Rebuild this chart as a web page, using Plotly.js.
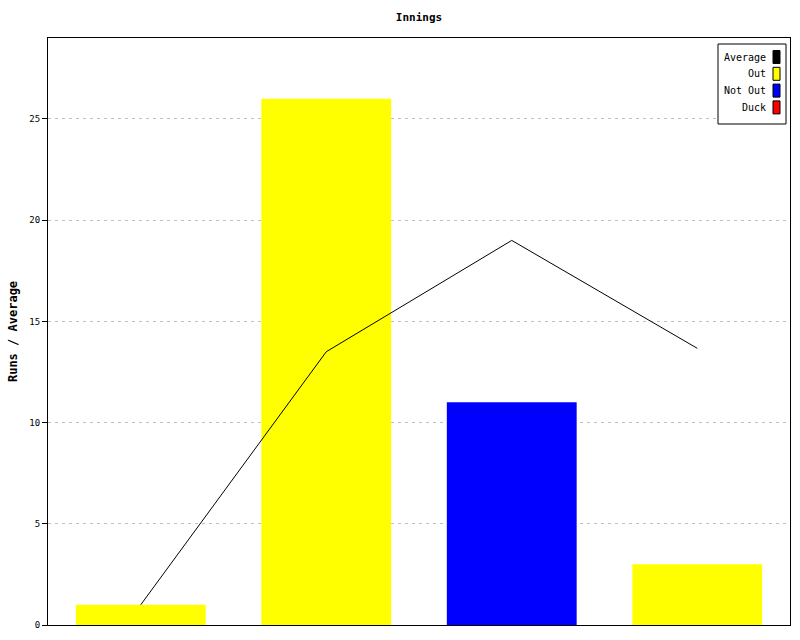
<!DOCTYPE html>
<html>
<head>
<meta charset="utf-8">
<script src="https://cdn.plot.ly/plotly-3.0.1.min.js"></script>
<style>html,body{margin:0;padding:0;background:#fff;}#chart{width:800px;height:640px;}</style>
</head>
<body>
<div id="chart"></div>
<script>
// Data
var innings = ["1", "2", "3", "4"];
var runs = [1, 26, 11, 3];
var outcome = ["Out", "Out", "Not Out", "Out"];
var average = [1, 13.5, 19, 13.67];
var legendNames = ["Average", "Out", "Not Out", "Duck"];
var legendColors = ["#000000", "#ffff00", "#0000ff", "#ff0000"];
var yTicks = [0, 5, 10, 15, 20, 25];

var outcomeColor = {"Out": "#ffff00", "Not Out": "#0000ff", "Duck": "#ff0000"};
var font = "'DejaVu Sans Mono', 'Liberation Mono', monospace";

var barTrace = {
  type: "bar",
  x: innings,
  y: runs,
  marker: {color: outcome.map(function (s) { return outcomeColor[s]; }), line: {width: 0}},
  width: 0.7,
  showlegend: false,
  hoverinfo: "skip"
};
var lineTrace = {
  type: "scatter",
  mode: "lines",
  x: innings,
  y: average,
  line: {color: "#000000", width: 1},
  showlegend: false,
  hoverinfo: "skip"
};

// Plot area in pixels
var L = 48, R = 790, T = 38, B = 625;
function px(x) { return (x - L) / (R - L); }
function py(y) { return 1 - (y - T) / (B - T); }

var shapes = [{
  type: "rect", xref: "paper", yref: "paper",
  x0: px(718), x1: px(786), y0: py(124), y1: py(44),
  line: {color: "#000", width: 1}, fillcolor: "#fff", layer: "above"
}];
var annotations = [];
legendNames.forEach(function (name, i) {
  var cy = 57 + i * 16.8;
  shapes.push({
    type: "rect", xref: "paper", yref: "paper",
    x0: px(773), x1: px(780), y0: py(cy + 6.5), y1: py(cy - 6.5),
    line: {color: "#000", width: 1}, fillcolor: legendColors[i], layer: "above"
  });
  annotations.push({
    xref: "paper", yref: "paper", x: px(768), y: py(cy),
    xanchor: "right", yanchor: "middle", showarrow: false,
    text: name, font: {family: font, size: 10, color: "#000"}
  });
});

var layout = {
  width: 800, height: 640,
  margin: {l: L, r: 800 - R, t: T, b: 640 - B, pad: 0},
  paper_bgcolor: "#fff", plot_bgcolor: "#fff",
  barmode: "overlay",
  title: {text: "<b>Innings</b>", font: {family: font, size: 11, color: "#000"}, xref: "paper", x: 0.5, xanchor: "center", yref: "container", y: 1 - 17 / 640, yanchor: "middle"},
  xaxis: {
    type: "category", range: [-0.5, 3.5],
    showticklabels: false, ticks: "", showgrid: false, zeroline: false,
    showline: true, linecolor: "#000", linewidth: 1, mirror: true
  },
  yaxis: {
    range: [0, 29], tickvals: yTicks, ticktext: yTicks.map(String),
    ticks: "outside", ticklen: 5, tickcolor: "#000", tickwidth: 1,
    tickfont: {family: font, size: 9, color: "#000"},
    showgrid: true, gridcolor: "#c0c0c0", gridwidth: 1, griddash: "3px,4px",
    zeroline: false,
    showline: true, linecolor: "#000", linewidth: 1, mirror: true,
    title: {text: "<b>Runs / Average</b>", font: {family: font, size: 12, color: "#000"}, standoff: 9}
  },
  shapes: shapes,
  annotations: annotations,
  showlegend: false
};

Plotly.newPlot("chart", [barTrace, lineTrace], layout, {staticPlot: true, displayModeBar: false});
</script>
</body>
</html>
